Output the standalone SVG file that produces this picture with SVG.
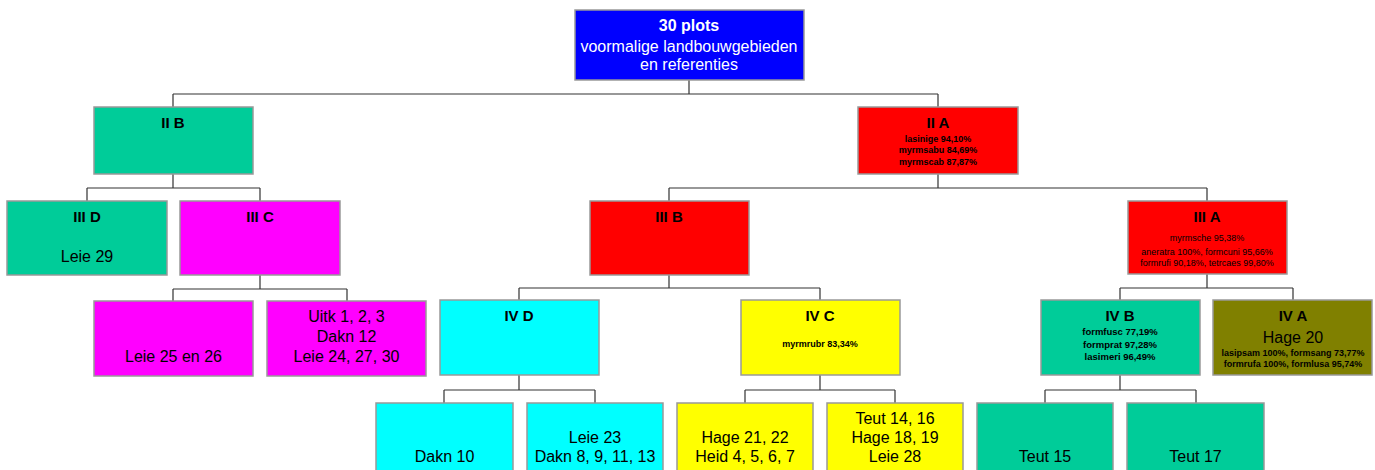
<svg xmlns="http://www.w3.org/2000/svg" width="1375" height="470" viewBox="0 0 1375 470">
<style>
text{font-family:"Liberation Sans",Arial,sans-serif;text-anchor:middle;fill:#000}
.box{stroke:#999;stroke-width:1.5}
.t{font-size:15px;font-weight:bold}
.r{font-size:16px}
.sb{font-size:9px;font-weight:bold}
.sr{font-size:9px}
.w{fill:#fff}
.con{fill:none;stroke:#333;stroke-width:1.2}
</style>
<rect width="1375" height="470" fill="#fff"/>
<g id="connectors" class="con">
<path d="M689 80V94M173 94H938M173 94V107M938 94V107"/>
<path d="M173 174V188M87 188H260M87 188V201M260 188V201"/>
<path d="M938 174V188M669 188H1207M669 188V201M1207 188V201"/>
<path d="M260 275V289M173 289H347M173 289V301M347 289V301"/>
<path d="M669 275V288M519 288H820M519 288V300M820 288V300"/>
<path d="M1207 274V288M1120 288H1293M1120 288V300M1293 288V300"/>
<path d="M519 375V390M444 390H595M444 390V403M595 390V403"/>
<path d="M820 375V390M745 390H895M745 390V403M895 390V403"/>
<path d="M1120 375V390M1045 390H1196M1045 390V403M1196 390V403"/>
</g>
<g id="root"><rect class="box" x="575" y="10" width="229" height="70" fill="#0000ff"/>
<text class="w" x="689" y="31" style="font-size:16px;font-weight:bold">30 plots</text>
<text class="w r" x="689" y="52">voormalige landbouwgebieden</text>
<text class="w r" x="689" y="70">en referenties</text></g>
<g id="IIB"><rect class="box" x="94" y="107" width="159" height="67" fill="#00cc99"/>
<text class="t" x="173" y="128">II B</text></g>
<g id="IIA"><rect class="box" x="858" y="107" width="160" height="67" fill="#ff0000"/>
<text class="t" x="938" y="128">II A</text>
<text class="sb" x="938" y="142">lasinige 94,10%</text>
<text class="sb" x="938" y="153">myrmsabu 84,69%</text>
<text class="sb" x="938" y="164.5">myrmscab 87,87%</text></g>
<g id="IIID"><rect class="box" x="7" y="201" width="160" height="74" fill="#00cc99"/>
<text class="t" x="87" y="222">III D</text>
<text class="r" x="87" y="262">Leie 29</text></g>
<g id="IIIC"><rect class="box" x="180" y="201" width="160" height="74" fill="#ff00ff"/>
<text class="t" x="260" y="222">III C</text></g>
<g id="IIIB"><rect class="box" x="590" y="201" width="159" height="74" fill="#ff0000"/>
<text class="t" x="669" y="222">III B</text></g>
<g id="IIIA"><rect class="box" x="1128" y="201" width="159" height="73" fill="#ff0000"/>
<text class="t" x="1207" y="222">III A</text>
<text class="sr" x="1207" y="241">myrmsche 95,38%</text>
<text class="sr" x="1207" y="255">aneratra 100%, formcuni 95,66%</text>
<text class="sr" x="1207" y="266">formrufi 90,18%, tetrcaes 99,80%</text></g>
<g id="leie2526"><rect class="box" x="94" y="301" width="159" height="75" fill="#ff00ff"/>
<text class="r" x="173.5" y="362">Leie 25 en 26</text></g>
<g id="uitk"><rect class="box" x="267" y="301" width="159" height="75" fill="#ff00ff"/>
<text class="r" x="346.5" y="322">Uitk 1, 2, 3</text>
<text class="r" x="346.5" y="342">Dakn 12</text>
<text class="r" x="346.5" y="362">Leie 24, 27, 30</text></g>
<g id="IVD"><rect class="box" x="440" y="300" width="159" height="75" fill="#00ffff"/>
<text class="t" x="519" y="321">IV D</text></g>
<g id="IVC"><rect class="box" x="741" y="300" width="159" height="75" fill="#ffff00"/>
<text class="t" x="820" y="321">IV C</text>
<text class="sb" x="820" y="347">myrmrubr 83,34%</text></g>
<g id="IVB"><rect class="box" x="1041" y="300" width="159" height="75" fill="#00cc99"/>
<text class="t" x="1120" y="321">IV B</text>
<text class="sb" x="1120" y="335" style="font-size:9.5px">formfusc 77,19%</text>
<text class="sb" x="1120" y="347.5" style="font-size:9.5px">formprat 97,28%</text>
<text class="sb" x="1120" y="360" style="font-size:9.5px">lasimeri 96,49%</text></g>
<g id="IVA"><rect class="box" x="1213" y="300" width="159" height="75" fill="#808000"/>
<text class="t" x="1293" y="321">IV A</text>
<text class="r" x="1293" y="343">Hage 20</text>
<text class="sb" x="1293" y="355.5">lasipsam 100%, formsang 73,77%</text>
<text class="sb" x="1293" y="367">formrufa 100%, formlusa 95,74%</text></g>
<g id="dakn10"><rect class="box" x="376" y="403" width="137" height="80" fill="#00ffff"/>
<text class="r" x="444.5" y="462">Dakn 10</text></g>
<g id="leie23"><rect class="box" x="527" y="403" width="136" height="80" fill="#00ffff"/>
<text class="r" x="595" y="443">Leie 23</text>
<text class="r" x="595" y="462">Dakn 8, 9, 11, 13</text></g>
<g id="hage2122"><rect class="box" x="677" y="403" width="136" height="80" fill="#ffff00"/>
<text class="r" x="745" y="443">Hage 21, 22</text>
<text class="r" x="745" y="462">Heid 4, 5, 6, 7</text></g>
<g id="teut1416"><rect class="box" x="827" y="403" width="136" height="80" fill="#ffff00"/>
<text class="r" x="895" y="424">Teut 14, 16</text>
<text class="r" x="895" y="443">Hage 18, 19</text>
<text class="r" x="895" y="462">Leie 28</text></g>
<g id="teut15"><rect class="box" x="977" y="403" width="136" height="80" fill="#00cc99"/>
<text class="r" x="1045" y="462">Teut 15</text></g>
<g id="teut17"><rect class="box" x="1127" y="403" width="137" height="80" fill="#00cc99"/>
<text class="r" x="1195.5" y="462">Teut 17</text></g>
</svg>
